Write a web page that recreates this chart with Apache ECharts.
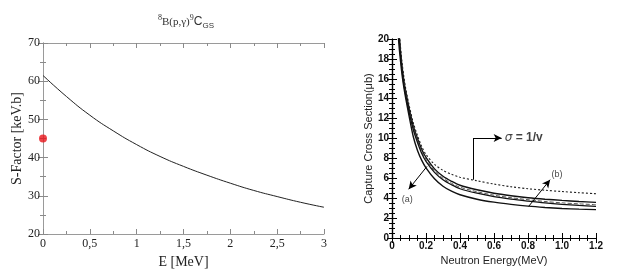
<!DOCTYPE html>
<html><head><meta charset="utf-8">
<script src="https://cdn.jsdelivr.net/npm/echarts@6/dist/echarts.min.js"></script>
<style>html,body{margin:0;padding:0;background:#fff}#c{width:623px;height:277px}</style>
</head><body><div id="c"></div>
<script>
// Left panel: S-factor of 8B(p,gamma)9C
const sfE = [0, 0.25, 0.5, 0.75, 1, 1.25, 1.5, 1.75, 2, 2.25, 2.5, 2.75, 3];
const sfS = [61.5, 56.0, 51.1, 47.0, 43.4, 40.3, 37.7, 35.4, 33.3, 31.4, 29.8, 28.3, 27.0];
const sfPoint = [[0, 45]];

// Right panel: capture cross sections vs neutron energy
const nE      = [0.035, 0.04, 0.05, 0.06, 0.07, 0.08, 0.1, 0.125, 0.15, 0.175, 0.2, 0.25, 0.3, 0.35, 0.4, 0.5, 0.6, 0.7, 0.8, 0.9, 1.0, 1.1, 1.2];
const sigInvV = [24, 21.5, 19.2, 17.5, 16.2, 15.1, 13.4, 11.6, 10.3, 9.2, 8.4, 7.4, 6.8, 6.4, 6.1, 5.75, 5.42, 5.15, 4.95, 4.8, 4.67, 4.55, 4.45];
const sigB1   = [23, 21, 18.8, 17.1, 15.8, 14.8, 13.1, 11.3, 10.0, 8.9, 8.1, 6.95, 6.2, 5.7, 5.3, 4.85, 4.5, 4.25, 4.05, 3.9, 3.78, 3.67, 3.58];
const sigB2   = [22.8, 20.8, 18.6, 16.9, 15.6, 14.6, 12.9, 11.1, 9.8, 8.7, 7.9, 6.75, 6.0, 5.5, 5.1, 4.65, 4.3, 4.05, 3.85, 3.67, 3.53, 3.43, 3.35];
const sigB3   = [22.5, 20.5, 18.4, 16.7, 15.4, 14.4, 12.7, 10.9, 9.6, 8.5, 7.7, 6.6, 5.85, 5.35, 4.95, 4.5, 4.15, 3.9, 3.7, 3.52, 3.38, 3.27, 3.18];
const sigA    = [21, 19.6, 17.8, 16.3, 15.1, 14.1, 12.3, 10.2, 8.8, 7.8, 7.05, 5.95, 5.2, 4.7, 4.35, 3.9, 3.6, 3.38, 3.2, 3.07, 2.97, 2.9, 2.85];

// Annotation anchors (data coordinates)
const invBracketStart = [0.48, 5.86];
const invBracketCorner = [0.48, 10.05];
const invBracketEnd = [0.645, 10.05];
const arrowA = [[0.206, 7.2], [0.098, 4.9]];
const arrowB = [[0.804, 3.18], [0.93, 5.86]];
const labelA = [0.055, 3.85];
const labelB = [0.935, 6.35];
const labelInv = [0.66, 10.05];

const zip = (xs, ys) => xs.map((x, i) => [x, ys[i]]);

const grayAxis = {lineStyle: {color: '#9a9a9a', width: 1}};
const serif = 'Liberation Serif, DejaVu Serif, serif';
const sans = 'Liberation Sans, Arial, sans-serif';

function leftAxisCommon(extra) {
  return Object.assign({
    gridIndex: 0, axisLine: grayAxis,
    axisTick: {show: true, inside: true, length: 5, lineStyle: {color: '#8a8a8a'}},
    minorTick: {show: true, splitNumber: 2, length: 3, lineStyle: {color: '#8a8a8a'}},
    splitLine: {show: false}
  }, extra);
}
function rightAxisCommon(extra) {
  return Object.assign({
    gridIndex: 1, axisLine: {lineStyle: {color: '#000', width: 1.2}},
    axisTick: {show: true, inside: true, length: 5, lineStyle: {color: '#000'}},
    minorTick: {show: true, splitNumber: 4, length: 3, lineStyle: {color: '#000'}},
    splitLine: {show: false}
  }, extra);
}

const chart = echarts.init(document.getElementById('c'));
chart.setOption({
  animation: false,
  backgroundColor: '#fff',
  title: {
    text: '{sup|8}{b|B(p,γ)}{sup|9}{c|C}{sub|GS}',
    left: 181, top: 9, textAlign: 'center',
    textStyle: {
      fontWeight: 'normal',
      rich: {
        sup: {fontFamily: serif, fontSize: 8, fontWeight: 'normal', color: '#333', padding: [0, 0, 8, 0]},
        b: {fontFamily: serif, fontSize: 11, fontWeight: 'normal', color: '#333'},
        c: {fontFamily: sans, fontSize: 12, fontWeight: 'normal', color: '#333'},
        sub: {fontFamily: sans, fontSize: 8, fontWeight: 'normal', color: '#333', padding: [8, 0, 0, 0]}
      }
    }
  },
  grid: [
    {left: 43, top: 43, width: 281, height: 191},
    {left: 392, top: 39, width: 204, height: 199}
  ],
  xAxis: [
    leftAxisCommon({type: 'value', min: 0, max: 3, interval: 0.5, position: 'bottom',
      name: 'E [MeV]', nameLocation: 'middle', nameGap: 15,
      nameTextStyle: {fontFamily: serif, fontSize: 14, color: '#222'},
      axisLabel: {fontFamily: serif, fontSize: 12, color: '#222', margin: 4,
        formatter: v => String(v).replace('.', ',')}}),
    leftAxisCommon({type: 'value', min: 0, max: 3, interval: 0.5, position: 'top',
      axisLabel: {show: false}}),
    rightAxisCommon({type: 'value', min: 0, max: 1.2, interval: 0.2, position: 'bottom',
      name: 'Neutron Energy(MeV)', nameLocation: 'middle', nameGap: 14,
      nameTextStyle: {fontFamily: sans, fontSize: 11, color: '#222'},
      axisLabel: {fontFamily: sans, fontSize: 10, fontWeight: 'bold', color: '#111', margin: 3,
        formatter: v => (v === 0 ? '0' : v.toFixed(1))}}),
    rightAxisCommon({type: 'value', min: 0, max: 1.2, interval: 0.2, position: 'top',
      axisLabel: {show: false}})
  ],
  yAxis: [
    leftAxisCommon({type: 'value', min: 20, max: 70, interval: 10, position: 'left',
      name: 'S-Factor [keV.b]', nameLocation: 'middle', nameGap: 18,
      nameTextStyle: {fontFamily: serif, fontSize: 14, color: '#222'},
      axisLabel: {fontFamily: serif, fontSize: 12, color: '#222', margin: 3}}),
    leftAxisCommon({type: 'value', min: 20, max: 70, interval: 10, position: 'right',
      axisLabel: {show: false}}),
    rightAxisCommon({type: 'value', min: 0, max: 20, interval: 2, position: 'left',
      name: 'Capture Cross Section(μb)', nameLocation: 'middle', nameGap: 17,
      nameTextStyle: {fontFamily: sans, fontSize: 11, color: '#222'},
      axisLabel: {fontFamily: sans, fontSize: 10, fontWeight: 'bold', color: '#111', margin: 3}}),
    rightAxisCommon({type: 'value', min: 0, max: 20, interval: 2, position: 'right',
      axisLabel: {show: false}})
  ],
  series: [
    {type: 'line', xAxisIndex: 0, yAxisIndex: 0, data: zip(sfE, sfS), smooth: 0.5,
      symbol: 'none', lineStyle: {color: '#222', width: 1}},
    {type: 'scatter', xAxisIndex: 0, yAxisIndex: 0, data: sfPoint, symbolSize: 8,
      itemStyle: {color: '#e8141a'}, clip: false},

    {type: 'line', xAxisIndex: 2, yAxisIndex: 2, data: zip(nE, sigInvV), smooth: 0.3,
      symbol: 'none', lineStyle: {color: '#222', width: 1.1, type: [2, 2]}},
    {type: 'line', xAxisIndex: 2, yAxisIndex: 2, data: zip(nE, sigB1), smooth: 0.3,
      symbol: 'none', lineStyle: {color: '#111', width: 1.4}},
    {type: 'line', xAxisIndex: 2, yAxisIndex: 2, data: zip(nE, sigB2), smooth: 0.3,
      symbol: 'none', lineStyle: {color: '#555', width: 1, type: [4, 2]}},
    {type: 'line', xAxisIndex: 2, yAxisIndex: 2, data: zip(nE, sigB3), smooth: 0.3,
      symbol: 'none', lineStyle: {color: '#111', width: 1.3}},
    {type: 'line', xAxisIndex: 2, yAxisIndex: 2, data: zip(nE, sigA), smooth: 0.3,
      symbol: 'none', lineStyle: {color: '#111', width: 1.4},
      markLine: {
        silent: true, symbol: ['none', 'arrow'], symbolSize: [6, 8],
        label: {show: false},
        lineStyle: {color: '#000', width: 1, type: 'solid'},
        data: [
          [{coord: invBracketStart, symbol: 'none'}, {coord: invBracketCorner, symbol: 'none'}],
          [{coord: invBracketCorner}, {coord: invBracketEnd}],
          [{coord: arrowA[0]}, {coord: arrowA[1]}],
          [{coord: arrowB[0]}, {coord: arrowB[1]}]
        ]
      }},
    {type: 'scatter', xAxisIndex: 2, yAxisIndex: 2, symbolSize: 1, silent: true,
      itemStyle: {color: 'rgba(0,0,0,0)'},
      label: {show: true, position: 'right', distance: 0, color: '#111',
        formatter: p => p.name,
        rich: {
          s: {fontFamily: 'DejaVu Sans, sans-serif', fontSize: 12, fontStyle: 'italic', color: '#111'},
          t: {fontFamily: sans, fontSize: 12, fontWeight: 'bold', color: '#111'}
        }},
      data: [
        {name: '(a)', value: labelA, label: {fontFamily: sans, fontSize: 9}},
        {name: '(b)', value: labelB, label: {fontFamily: sans, fontSize: 9}},
        {name: '{s|σ}{t| = 1/v}', value: labelInv}
      ]}
  ]
});
</script></body></html>
